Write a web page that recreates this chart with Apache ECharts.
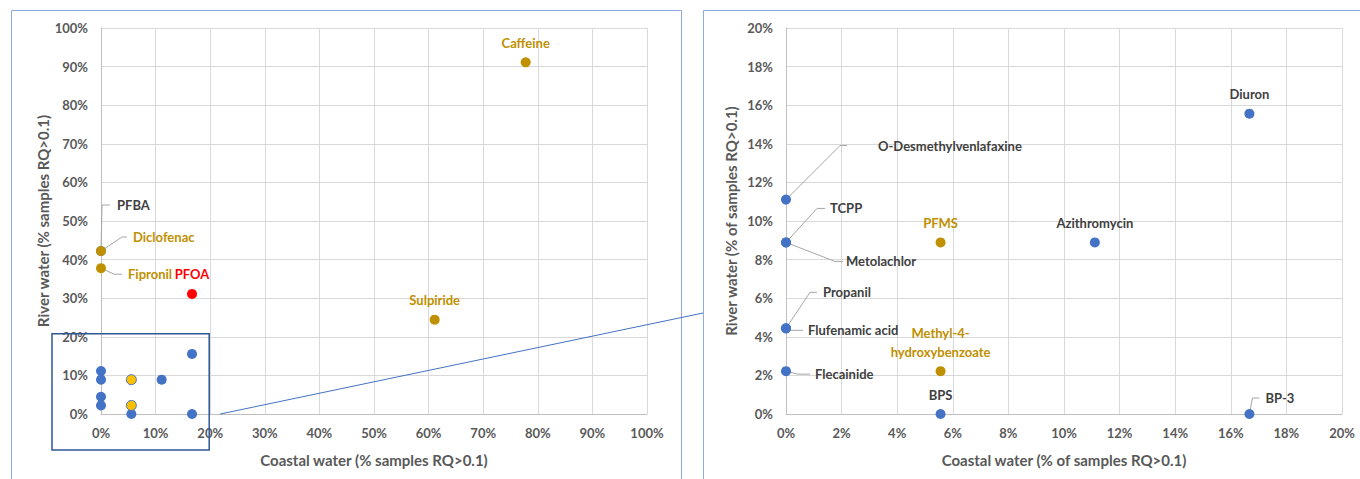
<!DOCTYPE html>
<html><head><meta charset="utf-8">
<script src="https://cdn.jsdelivr.net/npm/echarts@6/dist/echarts.min.js"></script>
<style>html,body{margin:0;padding:0;background:#fff}#c{width:1360px;height:479px}</style>
</head><body><div id="c"></div>
<script>
// ---------- DATA (percent of samples with RQ > 0.1) ----------
// Left panel: full range 0-100 %
const leftBlueNames   = ['PFBA','O-Desmethylvenlafaxine','TCPP','Propanil','Flecainide','BPS','BP-3','Diuron','Azithromycin'];
const leftBlueCoastal = [0, 0, 0, 0, 0, 5.56, 16.67, 16.67, 11.11];
const leftBlueRiver   = [42.22, 11.11, 8.89, 4.44, 2.22, 0, 0, 15.56, 8.89];

const leftGoldNames   = ['Caffeine','Sulpiride','Diclofenac','Fipronil'];
const leftGoldCoastal = [77.78, 61.11, 0, 0];
const leftGoldRiver   = [91.11, 24.44, 42.22, 37.78];

const leftRedNames    = ['PFOA'];
const leftRedCoastal  = [16.67];
const leftRedRiver    = [31.11];

const leftYellowNames   = ['PFMS','Methyl-4-hydroxybenzoate'];
const leftYellowCoastal = [5.56, 5.56];
const leftYellowRiver   = [8.89, 2.22];

// Right panel: zoom 0-20 %
const rightBlueNames   = ['O-Desmethylvenlafaxine','TCPP','Metolachlor','Propanil','Flufenamic acid','Flecainide','BPS','BP-3','Diuron','Azithromycin'];
const rightBlueCoastal = [0, 0, 0, 0, 0, 0, 5.56, 16.67, 16.67, 11.11];
const rightBlueRiver   = [11.11, 8.89, 8.89, 4.44, 4.44, 2.22, 0, 0, 15.56, 8.89];

const rightGoldNames   = ['PFMS','Methyl-4-hydroxybenzoate'];
const rightGoldCoastal = [5.56, 5.56];
const rightGoldRiver   = [8.89, 2.22];

const leftTicks  = [0,10,20,30,40,50,60,70,80,90,100];
const rightTicks = [0,2,4,6,8,10,12,14,16,18,20];

// labels displayed on each panel
const leftLabelled  = ['PFBA','Diclofenac','Fipronil','PFOA','Caffeine','Sulpiride'];
const rightLabelled = rightBlueNames.concat(rightGoldNames);

// ---------- STYLES ----------
const FONT = 'Lato, "Open Sans", sans-serif';
const BLUE = '#4472C4', GOLD = '#BF9000', RED = '#FF0000', YELLOW = '#FFC000';
const DARK = '#404040', AXIS = '#595959';
// leader: [bendDx, bendDy, endDx], tx: text left offset ; otherwise label on top
const labelStyle = {
  'PFBA':        {lead:[1,-46,9],  tx:16},
  'Diclofenac':  {lead:[21,-14,26], tx:32},
  'Fipronil':    {lead:[13,6,21],  tx:27},
  'O-Desmethylvenlafaxine': {lead:[54,-54,61], tx:92},
  'TCPP':        {lead:[31,-34,39], tx:44},
  'Metolachlor': {lead:[49,19,57], tx:60},
  'Propanil':    {lead:[24,-36,31], tx:37},
  'Flufenamic acid': {lead:[4,2,17], tx:22},
  'Flecainide':  {lead:[12,3,24], tx:29},
  'BP-3':        {lead:[3,-16,10], tx:16},
  'Methyl-4-hydroxybenzoate': {text:'Methyl-4-\nhydroxybenzoate'}
};

function pts(names, xs, ys){ return names.map((n,i)=>({name:n, value:[xs[i], ys[i]]})); }

function scatter(gi, data, color, border){
  return {type:'scatter', xAxisIndex:gi, yAxisIndex:gi, symbolSize:10, z:3,
    itemStyle:{color:color, borderColor:border||color, borderWidth:border?1:0, opacity:1},
    data:data, emphasis:{disabled:true}};
}

function labelSeries(gi, groups){
  const items = [];
  groups.forEach(g=>{ g.names.forEach((n,i)=>{ if(g.show.indexOf(n)>=0) items.push({name:n, value:[g.xs[i], g.ys[i]], color:g.color}); }); });
  return {type:'custom', xAxisIndex:gi, yAxisIndex:gi, z:2, silent:true,
    data: items.map(it=>({name:it.name, value:it.value})),
    renderItem:function(params, api){
      const it = items[params.dataIndex];
      const p = api.coord([api.value(0), api.value(1)]);
      const st = labelStyle[it.name] || {};
      const font = 'bold 13px ' + FONT;
      if (st.lead){
        const L = st.lead;
        return {type:'group', children:[
          {type:'polyline', shape:{points:[[p[0],p[1]],[p[0]+L[0],p[1]+L[1]],[p[0]+L[2],p[1]+L[1]]]},
           style:{stroke:'#A6A6A6', lineWidth:1, fill:null}},
          {type:'text', x:p[0]+st.tx, y:p[1]+L[1], style:{text:it.name, fill:it.color, font:font, align:'left', verticalAlign:'middle'}}
        ]};
      }
      return {type:'text', x:p[0], y:p[1]-10, style:{text:st.text||it.name, fill:it.color, font:font, align:'center', verticalAlign:'bottom', lineHeight:19}};
    }};
}

function xAxis(gi, max, interval, name){
  return {type:'value', gridIndex:gi, min:0, max:max, interval:interval, name:name, nameLocation:'middle', nameGap:38,
    nameTextStyle:{color:AXIS, fontWeight:'bold', fontSize:15, fontFamily:FONT},
    axisLine:{show:true, lineStyle:{color:'#BFBFBF'}}, axisTick:{show:false},
    axisLabel:{color:AXIS, fontWeight:'bold', fontSize:13, fontFamily:FONT, margin:12, formatter:'{value}%'},
    splitLine:{show:true, lineStyle:{color:'#D9D9D9'}}};
}
function yAxis(gi, max, interval, name){
  return {type:'value', gridIndex:gi, min:0, max:max, interval:interval, name:name, nameLocation:'middle', nameGap:48,
    nameTextStyle:{color:AXIS, fontWeight:'bold', fontSize:15, fontFamily:FONT},
    axisLine:{show:true, lineStyle:{color:'#BFBFBF'}}, axisTick:{show:false},
    axisLabel:{color:AXIS, fontWeight:'bold', fontSize:13, fontFamily:FONT, margin:13, formatter:'{value}%'},
    splitLine:{show:true, lineStyle:{color:'#D9D9D9'}}};
}

const chart = echarts.init(document.getElementById('c'), null, {renderer:'svg'});
chart.setOption({
  animation:false,
  backgroundColor:'#fff',
  grid:[{left:101, right:713, top:28, bottom:65}, {left:786, right:18, top:28, bottom:65}],
  xAxis:[xAxis(0,100,10,'Coastal water (% samples RQ>0.1)'), xAxis(1,20,2,'Coastal water (% of samples RQ>0.1)')],
  yAxis:[yAxis(0,100,10,'River water (% samples RQ>0.1)'), yAxis(1,20,2,'River water (% of samples RQ>0.1)')],
  series:[
    labelSeries(0, [
      {names:leftBlueNames, xs:leftBlueCoastal, ys:leftBlueRiver, color:DARK, show:leftLabelled},
      {names:leftGoldNames, xs:leftGoldCoastal, ys:leftGoldRiver, color:GOLD, show:leftLabelled},
      {names:leftRedNames, xs:leftRedCoastal, ys:leftRedRiver, color:RED, show:leftLabelled}
    ]),
    scatter(0, pts(leftBlueNames, leftBlueCoastal, leftBlueRiver), BLUE),
    scatter(0, pts(leftGoldNames, leftGoldCoastal, leftGoldRiver), GOLD),
    scatter(0, pts(leftRedNames, leftRedCoastal, leftRedRiver), RED),
    scatter(0, pts(leftYellowNames, leftYellowCoastal, leftYellowRiver), YELLOW, BLUE),
    labelSeries(1, [
      {names:rightBlueNames, xs:rightBlueCoastal, ys:rightBlueRiver, color:DARK, show:rightLabelled},
      {names:rightGoldNames, xs:rightGoldCoastal, ys:rightGoldRiver, color:GOLD, show:rightLabelled}
    ]),
    scatter(1, pts(rightBlueNames, rightBlueCoastal, rightBlueRiver), BLUE),
    scatter(1, pts(rightGoldNames, rightGoldCoastal, rightGoldRiver), GOLD)
  ]
});

// annotation frame + connector, placed from the axes' own pixel mapping
const a = chart.convertToPixel({gridIndex:0}, [0, rightTicks[rightTicks.length-1]]);
const b = chart.convertToPixel({gridIndex:0}, [rightTicks[rightTicks.length-1], 0]);
const c0 = chart.convertToPixel({gridIndex:1}, [0, 0]);
chart.setOption({graphic:[
  {type:'rect', shape:{x:11.5, y:10.5, width:670, height:520}, style:{fill:null, stroke:'#8FAADC', lineWidth:1}, z:0, silent:true},
  {type:'rect', shape:{x:703.5, y:10.5, width:700, height:520}, style:{fill:null, stroke:'#8FAADC', lineWidth:1}, z:0, silent:true},
  {type:'rect', shape:{x:a[0]-49, y:a[1]-3, width:(b[0]-1)-(a[0]-49), height:(b[1]+36)-(a[1]-3)}, style:{fill:null, stroke:'#2F5597', lineWidth:1.5}, z:10, silent:true},
  {type:'line', shape:{x1:b[0]+10, y1:b[1], x2:c0[0]-83, y2:c0[1]-101}, style:{stroke:BLUE, lineWidth:1}, z:10, silent:true}
]});
</script></body></html>
